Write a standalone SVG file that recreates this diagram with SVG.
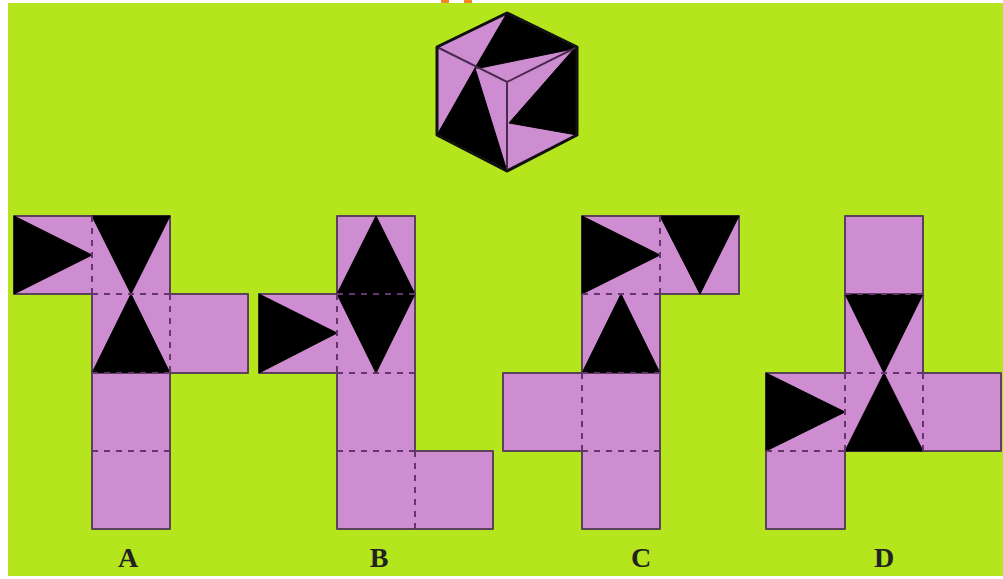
<svg xmlns="http://www.w3.org/2000/svg" width="1003" height="579" viewBox="0 0 1003 579">
<style>
.f{fill:#cd8dd0;stroke:#5c4258;stroke-width:2;stroke-linejoin:round}
.k{fill:#000;stroke:#000;stroke-width:1;stroke-linejoin:round}
.d{fill:none;stroke:#65356f;stroke-width:2;stroke-dasharray:6 6}
.e{fill:none;stroke:#4a2a50;stroke-width:2}
.t{font-family:"Liberation Serif",serif;font-weight:bold;font-size:28px;text-anchor:middle;fill:#222}
</style>
<rect width="1003" height="579" fill="#fff"/>
<rect x="8" y="3" width="995" height="573" fill="#b5e61d"/>
<rect x="441" y="0" width="8" height="3" fill="#f5862a"/>
<rect x="464" y="0" width="8" height="3" fill="#f5862a"/>
<g id="cube">
<polygon class="f" points="507,13 577,47 577,135 507,171 437,135 437,47" stroke-width="3"/>
<polygon class="k" points="507,13 577,47 573,49 480,68 475,68"/>
<polygon class="k" points="577,47 577,135 509,123 573,50"/>
<polygon class="k" points="475,68 507,171 437,135"/>
<path class="e" d="M437,47 507,82 577,47M507,82V171"/>
<polygon points="507,13 577,47 577,135 507,171 437,135 437,47" fill="none" stroke="#111" stroke-width="3" stroke-linejoin="round"/>
</g>
<g id="net-a">
<path class="f" d="M14,216H170V294H248V373H170V529H92V294H14Z"/>
<polygon class="k" points="14,216 92,255 14,294"/>
<polygon class="k" points="92,216 170,216 131,294"/>
<polygon class="k" points="131,294 92,373 170,373"/>
<path class="d" d="M92,216V294M92,294H170M170,294V373M92,373H170M92,451H170"/>
<text class="t" x="128" y="567">A</text>
</g>
<g id="net-b">
<path class="f" d="M337,216H415V451H493V529H337V373H259V294H337Z"/>
<polygon class="k" points="376,216 337,294 415,294"/>
<polygon class="k" points="337,294 415,294 376,373"/>
<polygon class="k" points="259,294 337,333 259,373"/>
<path class="d" d="M337,294V373M337,294H415M337,373H415M337,451H415M415,451V529"/>
<text class="t" x="379" y="567">B</text>
</g>
<g id="net-c">
<path class="f" d="M582,216H739V294H660V529H582V451H503V373H582Z"/>
<polygon class="k" points="582,216 660,255 582,294"/>
<polygon class="k" points="660,216 739,216 700,294"/>
<polygon class="k" points="621,294 582,373 660,373"/>
<path class="d" d="M660,216V294M582,294H660M582,373H660M582,373V451M582,451H660"/>
<text class="t" x="641" y="567">C</text>
</g>
<g id="net-d">
<path class="f" d="M845,216H923V373H1001V451H845V529H766V373H845Z"/>
<polygon class="k" points="845,294 923,294 884,373"/>
<polygon class="k" points="884,373 845,451 923,451"/>
<polygon class="k" points="766,373 845,412 766,451"/>
<path class="d" d="M845,294H923M845,373H923M845,373V451M923,373V451M766,451H845"/>
<text class="t" x="884" y="567">D</text>
</g>
</svg>
